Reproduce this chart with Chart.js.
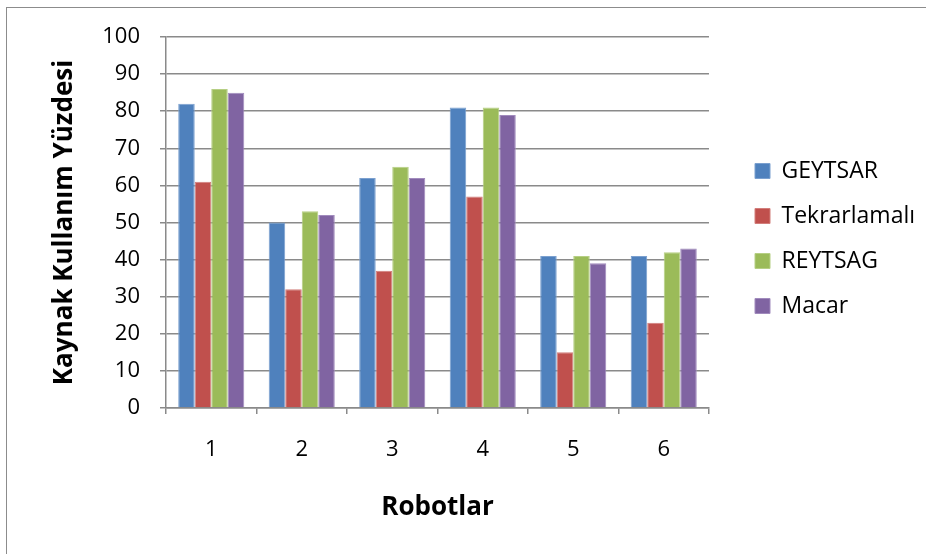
<!DOCTYPE html>
<html>
<head>
<meta charset="utf-8">
<script src="https://cdn.jsdelivr.net/npm/chart.js@4.4.1/dist/chart.umd.min.js"></script>
<style>
  html, body { margin: 0; padding: 0; background: #fff; overflow: hidden; }
  #wrap { position: relative; width: 926px; height: 554px; }
  #frame { position: absolute; left: 6px; top: 7px; width: 940px; height: 570px;
           border: 1.5px solid #8c8c8c; box-sizing: border-box; }
  canvas { position: absolute; left: 0; top: 0; }
</style>
</head>
<body>
<div id="wrap">
  <div id="frame"></div>
  <canvas id="c" width="926" height="554"></canvas>
</div>
<script>
// Robots on the x axis
const robots = ['1', '2', '3', '4', '5', '6'];

// Resource usage percentage per method
const geytsar      = [82, 50, 62, 81, 41, 41];
const tekrarlamali = [61, 32, 37, 57, 15, 23];
const reytsag      = [86, 53, 65, 81, 41, 42];
const macar        = [85, 52, 62, 79, 39, 43];

const seriesNames = ['GEYTSAR', 'Tekrarlamalı', 'REYTSAG', 'Macar'];

const FONT = '"Open Sans", "DejaVu Sans", sans-serif';
const GRID = '#8a8a8a';

// Where the legend swatches begin
const LEGEND_X = 755;

function bar(label, data, fill, edge) {
  return {
    label: label,
    data: data,
    backgroundColor: fill,
    borderColor: edge,
    borderWidth: 1,
    barPercentage: 1.0,
    categoryPercentage: 0.73
  };
}

// Slides the legend box sideways so the swatches sit at LEGEND_X
const legendShift = {
  id: 'legendShift',
  afterLayout(chart) {
    const lg = chart.legend;
    if (!lg) return;
    const pad = lg.options.labels.padding;
    const dx = LEGEND_X - (lg.left + pad);
    lg.left += dx;
    lg.right += dx;
  }
};

new Chart(document.getElementById('c'), {
  type: 'bar',
  data: {
    labels: robots,
    datasets: [
      bar(seriesNames[0], geytsar,      '#4F81BD', '#7BA0CF'),
      bar(seriesNames[1], tekrarlamali, '#C0504D', '#D27E7B'),
      bar(seriesNames[2], reytsag,      '#9BBB59', '#B6CF84'),
      bar(seriesNames[3], macar,        '#8064A2', '#A18BBD')
    ]
  },
  plugins: [legendShift],
  options: {
    responsive: false,
    animation: false,
    devicePixelRatio: 1,
    layout: { padding: { left: 0, top: 37, right: 25, bottom: 0 } },
    plugins: {
      tooltip: { enabled: false },
      legend: {
        position: 'right',
        align: 'center',
        fullSize: false,
        title: { display: true, text: ' ', font: { family: FONT, size: 10 }, padding: 10 },
        labels: {
          boxWidth: 15,
          boxHeight: 15,
          padding: 22,
          color: '#000',
          font: { family: FONT, size: 23 }
        }
      }
    },
    scales: {
      x: {
        afterFit: (s) => { s.height = 146; },
        grid: {
          offset: true,
          drawOnChartArea: false,
          drawTicks: true,
          tickLength: 6,
          color: GRID,
          lineWidth: 1.5
        },
        border: { color: GRID, width: 1.5 },
        ticks: { color: '#000', padding: 23, font: { family: FONT, size: 22 } },
        title: {
          display: true,
          text: 'Robotlar',
          color: '#000',
          font: { family: FONT, size: 26, weight: 'bold' },
          padding: { top: 0, bottom: 31 }
        }
      },
      y: {
        min: 0,
        max: 100,
        afterFit: (s) => { s.width = 166; },
        grid: { color: GRID, lineWidth: 1.5, tickLength: 6 },
        border: { color: GRID, width: 1.5 },
        ticks: { stepSize: 10, color: '#000', padding: 20, font: { family: FONT, size: 22 } },
        title: {
          display: true,
          text: 'Kaynak Kullanım Yüzdesi',
          color: '#000',
          font: { family: FONT, size: 26, weight: 'bold' },
          padding: { top: 49, bottom: 0 }
        }
      }
    }
  }
});
</script>
</body>
</html>
